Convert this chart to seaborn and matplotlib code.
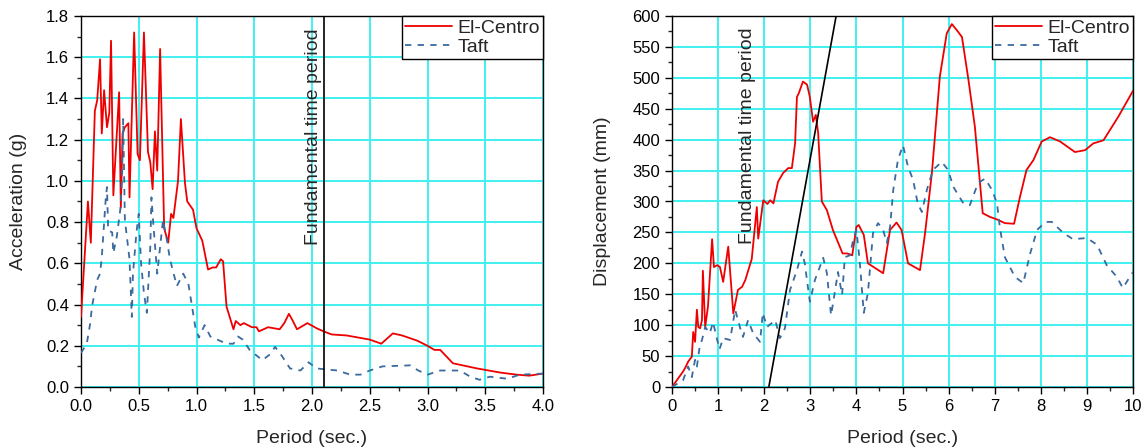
import matplotlib
matplotlib.use("Agg")
import matplotlib.pyplot as plt
import seaborn as sns
import pandas as pd
from matplotlib.ticker import MultipleLocator, FormatStrFormatter

# ---------------- data ----------------
acc_elc_period = [0.0, 0.06, 0.085, 0.12, 0.14, 0.165, 0.18, 0.20, 0.225, 0.245, 0.26, 0.28, 0.33, 0.345,
                  0.36, 0.38, 0.41, 0.42, 0.46, 0.49, 0.51, 0.545, 0.58, 0.60, 0.62, 0.64, 0.66, 0.685,
                  0.72, 0.755, 0.78, 0.80, 0.84, 0.865, 0.90, 0.92, 0.97, 1.0, 1.05, 1.10, 1.14, 1.17,
                  1.21, 1.23, 1.26, 1.32, 1.34, 1.38, 1.41, 1.48, 1.52, 1.54, 1.62, 1.72, 1.76, 1.80,
                  1.83, 1.87, 1.96, 2.04, 2.10, 2.17, 2.30, 2.50, 2.60, 2.70, 2.78, 2.91, 3.0, 3.06,
                  3.11, 3.22, 3.43, 3.63, 3.77, 3.88, 4.0]
acc_elc = [0.34, 0.90, 0.70, 1.34, 1.39, 1.59, 1.23, 1.44, 1.26, 1.33, 1.68, 0.93, 1.43, 0.87,
           1.23, 1.26, 1.28, 0.92, 1.72, 1.13, 1.10, 1.72, 1.14, 1.09, 0.96, 1.24, 1.05, 1.64,
           0.77, 0.70, 0.84, 0.82, 1.0, 1.30, 0.99, 0.90, 0.86, 0.77, 0.71, 0.57, 0.58, 0.58,
           0.62, 0.61, 0.39, 0.28, 0.32, 0.30, 0.31, 0.29, 0.29, 0.27, 0.29, 0.28, 0.31, 0.355,
           0.325, 0.28, 0.31, 0.285, 0.27, 0.255, 0.25, 0.23, 0.21, 0.26, 0.25, 0.225, 0.20, 0.18,
           0.18, 0.115, 0.09, 0.07, 0.06, 0.055, 0.065]

acc_taft_period = [0.0, 0.05, 0.08, 0.095, 0.14, 0.165, 0.18, 0.215, 0.225, 0.235, 0.27, 0.28, 0.31, 0.34,
                   0.355, 0.365, 0.38, 0.42, 0.44, 0.45, 0.48, 0.50, 0.52, 0.545, 0.57, 0.60, 0.61,
                   0.625, 0.66, 0.685, 0.71, 0.745, 0.77, 0.83, 0.885, 0.93, 0.99, 1.02, 1.07, 1.12,
                   1.26, 1.32, 1.36, 1.40, 1.46, 1.57, 1.64, 1.68, 1.74, 1.81, 1.90, 1.97, 2.04, 2.22,
                   2.33, 2.42, 2.50, 2.61, 2.85, 2.92, 3.0, 3.11, 3.28, 3.37, 3.45, 3.54, 3.69, 3.80, 4.0]
acc_taft = [0.165, 0.21, 0.31, 0.39, 0.52, 0.55, 0.63, 0.92, 0.97, 0.76, 0.75, 0.65, 0.73, 0.86,
            1.0, 1.30, 0.81, 0.62, 0.34, 0.55, 0.75, 0.84, 0.60, 0.455, 0.36, 0.68, 0.92,
            0.80, 0.55, 0.68, 0.81, 0.71, 0.62, 0.49, 0.55, 0.50, 0.29, 0.24, 0.30, 0.245,
            0.21, 0.21, 0.245, 0.23, 0.18, 0.13, 0.16, 0.195, 0.15, 0.09, 0.08, 0.12, 0.09, 0.08,
            0.06, 0.06, 0.08, 0.10, 0.105, 0.08, 0.06, 0.08, 0.08, 0.05, 0.035, 0.05, 0.04, 0.06, 0.065]

disp_elc_period = [0.0, 0.24, 0.30, 0.35, 0.43, 0.46, 0.50, 0.54, 0.57, 0.61, 0.65, 0.67, 0.72, 0.78, 0.87,
                   0.91, 0.98, 1.04, 1.11, 1.22, 1.33, 1.43, 1.52, 1.59, 1.73, 1.84, 1.87, 1.98, 2.07,
                   2.13, 2.2, 2.3, 2.41, 2.52, 2.6, 2.67, 2.71, 2.75, 2.84, 2.93, 2.99, 3.06, 3.12, 3.17,
                   3.25, 3.36, 3.49, 3.70, 3.80, 3.91, 4.0, 4.05, 4.16, 4.25, 4.58, 4.73, 4.87, 4.98,
                   5.12, 5.38, 5.49, 5.64, 5.81, 5.96, 6.07, 6.2, 6.29, 6.43, 6.57, 6.74, 6.9, 7.05,
                   7.22, 7.42, 7.55, 7.69, 7.84, 8.02, 8.2, 8.42, 8.74, 8.96, 9.14, 9.36, 9.68, 10.0]
disp_elc = [0, 25, 33, 41, 49, 89, 73, 125, 97, 95, 108, 188, 97, 130, 239,
            194, 197, 194, 170, 227, 119, 157, 162, 173, 207, 291, 240, 302, 296,
            302, 297, 332, 346, 354, 354, 394, 469, 475, 494, 489, 469, 429, 440, 411,
            300, 286, 254, 216, 216, 213, 259, 262, 246, 200, 184, 254, 266, 254,
            200, 189, 249, 348, 502, 572, 587, 575, 566, 497, 421, 281, 275, 271,
            265, 264, 308, 351, 367, 397, 404, 397, 380, 383, 394, 399, 437, 479]

disp_taft_period = [0.0, 0.24, 0.35, 0.43, 0.50, 0.54, 0.60, 0.65, 0.72, 0.82, 0.89, 0.98, 1.03, 1.11, 1.26,
                    1.37, 1.48, 1.54, 1.65, 1.76, 1.91, 1.97, 2.06, 2.24, 2.34, 2.45, 2.56, 2.71, 2.82,
                    2.88, 2.99, 3.10, 3.28, 3.36, 3.45, 3.54, 3.6, 3.69, 3.75, 3.86, 3.93, 4.0, 4.07,
                    4.16, 4.25, 4.36, 4.47, 4.58, 4.66, 4.73, 4.8, 4.9, 5.01, 5.12, 5.23, 5.33, 5.42,
                    5.53, 5.66, 5.85, 5.99, 6.1, 6.32, 6.46, 6.64, 6.79, 6.94, 7.05, 7.11, 7.22, 7.44,
                    7.62, 7.77, 7.92, 8.1, 8.24, 8.49, 8.7, 9.0, 9.22, 9.43, 9.65, 9.78, 9.93, 10.0]
disp_taft = [0, 11, 33, 16, 44, 33, 65, 76, 97, 87, 105, 76, 61, 79, 76,
             125, 95, 81, 108, 87, 73, 120, 97, 108, 79, 95, 157, 189, 219,
             200, 138, 173, 209, 184, 116, 157, 186, 149, 210, 213, 238, 254, 205,
             120, 152, 249, 265, 254, 233, 259, 319, 367, 391, 356, 335, 297, 283,
             319, 351, 364, 351, 324, 297, 294, 330, 337, 319, 297, 259, 210, 178,
             168, 216, 254, 267, 267, 249, 239, 241, 230, 197, 178, 160, 178, 186]

fund_period_line = [2.1, 2.1]           # left panel vertical marker (x)
fund_disp_line_x = [2.1, 3.56]          # right panel inclined marker
fund_disp_line_y = [0, 600]
series_names = ["El-Centro", "Taft"]
annot_text = "Fundamental time period"

# ---------------- style ----------------
sns.set_style("white")
plt.rcParams['font.family'] = ['Liberation Sans', 'DejaVu Sans']
plt.rcParams['axes.linewidth'] = 1.0

RED = "#ee0000"
BLUE = "#3a6a9e"
GRID = "#3ff0f0"

fig = plt.figure(figsize=(11.46, 4.48), dpi=100)
axL = fig.add_axes([81/1146, 61/448, (543-81)/1146, (387-16)/448])
axR = fig.add_axes([672/1146, 61/448, (1133-672)/1146, (387-16)/448])

def draw(ax, xe, ye, xt, yt):
    de = pd.DataFrame({"Period": xe, "Value": ye})
    dt = pd.DataFrame({"Period": xt, "Value": yt})
    sns.lineplot(data=de, x="Period", y="Value", ax=ax, color=RED, lw=1.3,
                 label=series_names[0], estimator=None, sort=False, zorder=3)
    sns.lineplot(data=dt, x="Period", y="Value", ax=ax, color=BLUE, lw=1.3,
                 dashes=(3.5, 3.5), label=series_names[1], estimator=None, sort=False, zorder=3)

draw(axL, acc_elc_period, acc_elc, acc_taft_period, acc_taft)
draw(axR, disp_elc_period, disp_elc, disp_taft_period, disp_taft)

# left marker
axL.plot(fund_period_line, [0, 1.8], color="black", lw=1.2, zorder=4)
axL.text(2.01, 1.74, annot_text, rotation=90, ha="center", va="top", fontsize=14)
# right marker
axR.plot(fund_disp_line_x, fund_disp_line_y, color="black", lw=1.2, zorder=4)
axR.text(1.63, 582, annot_text, rotation=90, ha="center", va="top", fontsize=14)

for ax, xlim, ylim, xmaj, xmin_, ymaj, ymin_, yl, fmtx, fmty in [
        (axL, (0, 4), (0, 1.8), 0.5, 0.25, 0.2, 0.1, "Acceleration (g)", "%.1f", "%.1f"),
        (axR, (0, 10), (0, 600), 1, 0.5, 50, 25, "Displacement (mm)", "%d", "%d")]:
    ax.set_xlim(*xlim)
    ax.set_ylim(*ylim)
    ax.xaxis.set_major_locator(MultipleLocator(xmaj))
    ax.xaxis.set_minor_locator(MultipleLocator(xmin_))
    ax.yaxis.set_major_locator(MultipleLocator(ymaj))
    ax.yaxis.set_minor_locator(MultipleLocator(ymin_))
    ax.xaxis.set_major_formatter(FormatStrFormatter(fmtx))
    ax.yaxis.set_major_formatter(FormatStrFormatter(fmty))
    ax.grid(True, which="major", color=GRID, lw=1.4, zorder=0)
    ax.set_axisbelow(True)
    ax.tick_params(which="major", direction="out", length=5, width=1, labelsize=12, colors="black")
    ax.tick_params(which="minor", direction="out", length=3, width=1)
    ax.tick_params(bottom=True, left=True, which="both")
    for s in ax.spines.values():
        s.set_color("black")
        s.set_visible(True)
    ax.set_xlabel("Period (sec.)", fontsize=14, labelpad=12)
    ax.set_ylabel(yl, fontsize=14, labelpad=14 if ax is axL else 15)
    leg = ax.legend(loc="upper right", fontsize=14, frameon=True, fancybox=False,
                    borderaxespad=0, borderpad=0.15, handlelength=2.4, handletextpad=0.3,
                    labelspacing=0.1, framealpha=1)
    leg.get_frame().set_edgecolor("black")
    leg.get_frame().set_linewidth(1.0)

fig.savefig("out.png", dpi=100)
